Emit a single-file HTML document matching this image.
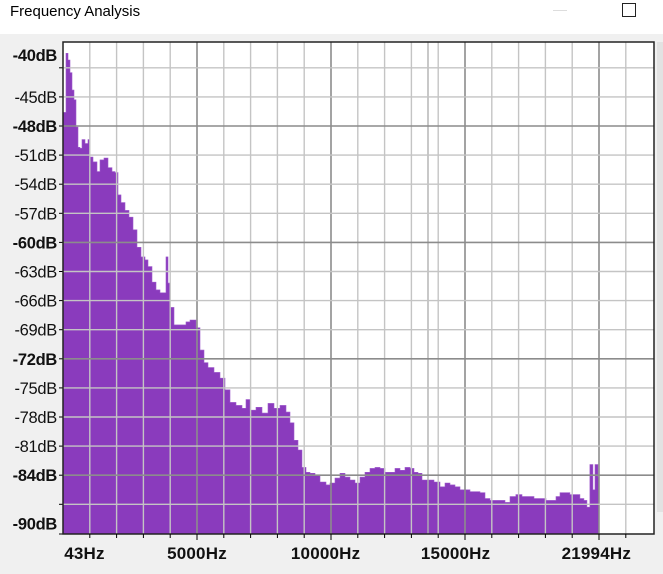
<!DOCTYPE html>
<html><head><meta charset="utf-8">
<style>
html,body{margin:0;padding:0;}
body{width:663px;height:574px;background:#f0f0f0;position:relative;overflow:hidden;font-family:"Liberation Sans",sans-serif;}
#titlebar{position:absolute;left:0;top:0;width:663px;height:34px;background:#fff;}
#title{position:absolute;left:10px;top:3px;font-size:15px;color:#000;}
#minbtn{position:absolute;left:553px;top:10px;width:14px;height:1px;background:#ddd;}
#maxbtn{position:absolute;left:622px;top:3px;width:12px;height:12px;border:1px solid #222;}
#scroll{position:absolute;left:657px;top:42px;width:6px;height:470px;background:#e2e2e2;}
svg{position:absolute;left:0;top:0;}
</style></head>
<body>
<div id="titlebar">
  <div id="title">Frequency Analysis</div>
  <div id="minbtn"></div>
  <div id="maxbtn"></div>
</div>
<div id="scroll"></div>
<svg id="chart" width="663" height="574"></svg>
<script>
const freqs=[0,112,187,261,336,410,485,560,634,709,821,933,1007,1119,1269,1380,1530,1679,1828,1940,2052,2164,2313,2462,2612,2761,2910,3059,3171,3321,3470,3619,3768,3843,3918,3992,4141,4365,4589,4738,4962,5111,5261,5410,5634,5858,6044,6231,6455,6678,6828,6977,7201,7425,7649,7872,8096,8320,8469,8619,8768,8917,9066,9216,9402,9589,9813,9962,10149,10336,10522,10709,10895,11082,11269,11455,11642,11828,12014,12201,12387,12574,12760,12947,13096,13245,13394,13618,13842,14066,14252,14439,14626,14812,14999,15185,15409,15558,15745,15931,16155,16304,16491,16678,16901,17125,17349,17573,17797,18021,18244,18394,18543,18767,18916,19103,19289,19438,19550,19662,19774,19849,19961];
const levels=[-46.6,-40.5,-41.2,-42.5,-44.3,-45.3,-48.1,-50.2,-50.3,-49.4,-49.8,-49.4,-51.2,-51.7,-52.7,-51.5,-51.3,-52.3,-52.7,-52.8,-55.1,-55.9,-56.7,-57.4,-58.7,-60.5,-61.5,-61.8,-62.5,-64.1,-64.9,-65.2,-65.2,-61.5,-64.2,-66.7,-68.5,-68.5,-68.2,-68.0,-68.8,-71.1,-72.4,-72.9,-73.4,-74.0,-75.2,-76.5,-76.8,-77.1,-76.2,-77.3,-77.0,-77.6,-76.6,-77.1,-76.8,-77.5,-78.6,-80.4,-81.4,-83.2,-83.7,-83.8,-84.0,-84.7,-85.0,-84.8,-84.3,-83.8,-84.2,-84.5,-84.8,-84.2,-83.7,-83.3,-83.2,-83.3,-83.7,-83.7,-83.3,-83.5,-83.2,-83.3,-83.7,-83.8,-84.5,-84.5,-84.7,-85.2,-84.8,-85.0,-85.2,-85.5,-85.5,-85.7,-85.7,-85.8,-86.4,-86.6,-86.6,-86.6,-86.8,-86.2,-86.0,-86.2,-86.2,-86.4,-86.4,-86.6,-86.6,-86.2,-85.8,-85.8,-86.0,-86.0,-86.4,-86.6,-87.3,-82.9,-85.5,-82.9,-84.2];
const dataEnd=20000;
const yTickValues=[-42,-45,-48,-51,-54,-57,-60,-63,-66,-69,-72,-75,-78,-81,-84,-87];
const yLabels=["-40dB","-45dB","-48dB","-51dB","-54dB","-57dB","-60dB","-63dB","-66dB","-69dB","-72dB","-75dB","-78dB","-81dB","-84dB","-90dB"];
const yLabelDb=[-40.7,-45,-48,-51,-54,-57,-60,-63,-66,-69,-72,-75,-78,-81,-84,-89];
const xLabels=["43Hz","5000Hz","10000Hz","15000Hz","21994Hz"];
const xLabelHz=[800,5000,9800,14650,19900];

const L=63,R=654,T=42,B=534;
const HZ_PX=0.0268;
function xs(f){return L+f*HZ_PX;}
function ys(db){return 126+(-48-db)*9.7;}
const NS="http://www.w3.org/2000/svg";
const svg=document.getElementById('chart');
function mk(tag,attrs){const e=document.createElementNS(NS,tag);for(const k in attrs)e.setAttribute(k,attrs[k]);svg.appendChild(e);return e;}

const bg=mk('rect',{x:L,y:T,width:R-L,height:B-T,fill:'#fff'});



let d='M'+xs(freqs[0])+','+B;
for(let i=0;i<freqs.length;i++){
  const x0=xs(freqs[i]);
  const x1=xs(i+1<freqs.length?freqs[i+1]:dataEnd);
  const y=ys(levels[i]);
  d+=' L'+x0.toFixed(1)+','+y.toFixed(1)+' L'+x1.toFixed(1)+','+y.toFixed(1);
}
d+=' L'+xs(dataEnd)+','+B+' Z';
const area=mk('path',{d:d,fill:'#8a3bbd',stroke:'#9d5acb','stroke-width':0.6});



for(let f=1000;f<22000;f+=1000){
  const major=f%5000===0;
  const g=mk('line',{x1:xs(f),x2:xs(f),y1:T,y2:B,stroke:major?'#8c8c8c':'#c4c4c4','stroke-width':major?1.6:1.4});
  
  
}
const cur=mk('line',{x1:428,x2:428,y1:T,y2:B,stroke:'#b0b0b0','stroke-width':1.4});


yTickValues.forEach(v=>{
  const major=(v%12===0);
  const g=mk('line',{x1:L,x2:R,y1:ys(v),y2:ys(v),stroke:major?'#8c8c8c':'#c4c4c4','stroke-width':major?1.6:1.4});
  
  
  const t=mk('line',{x1:L-4,x2:L,y1:ys(v),y2:ys(v),stroke:'#000','stroke-width':1});
  
  
});
const bt=mk('line',{x1:L-4,x2:L,y1:B,y2:B,stroke:'#000','stroke-width':1});


const br=mk('rect',{x:L,y:T,width:R-L,height:B-T,fill:'none',stroke:'#222','stroke-width':1.5});


for(let f=1000;f<22000;f+=1000){
  const major=f%5000===0;
  const t=mk('line',{x1:xs(f),x2:xs(f),y1:B,y2:B+(major?6:4),stroke:'#000','stroke-width':1});
  
  
}
yLabels.forEach((s,i)=>{
  const bold=["-40dB","-48dB","-60dB","-72dB","-84dB","-90dB"].includes(s);
  const t=mk('text',{x:57,y:ys(yLabelDb[i])+6,'text-anchor':'end','font-size':16.5,'font-family':'Liberation Sans, sans-serif','font-weight':bold?'bold':'normal',fill:'#111','letter-spacing':'-0.3'});
  t.textContent=s;
  
  
});
xLabels.forEach((s,i)=>{
  const t=mk('text',{x:xs(xLabelHz[i]),y:559,'text-anchor':'middle','font-size':17,'font-weight':'bold','font-family':'Liberation Sans, sans-serif',fill:'#111','letter-spacing':'0.2'});
  t.textContent=s;
  
  
});
</script>
</body></html>
